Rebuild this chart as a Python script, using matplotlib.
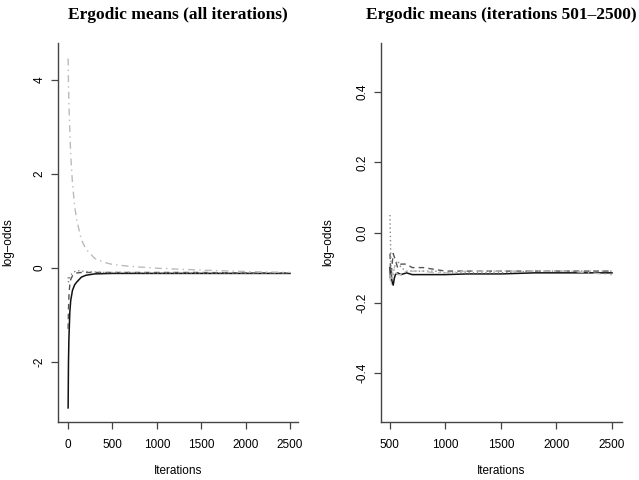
import matplotlib.pyplot as plt

plt.rcParams['font.family'] = ['Liberation Sans', 'DejaVu Sans']

# ergodic means, all iterations
iters_all = [1, 5, 10, 20, 30, 50, 75, 100, 150, 200, 300, 400, 500, 700, 1000, 1500, 2000, 2500]
all_chain1 = [-2.98, -2.0, -1.5, -0.95, -0.7, -0.48, -0.36, -0.3, -0.2, -0.16, -0.13, -0.125, -0.12, -0.12, -0.12, -0.12, -0.12, -0.12]
all_chain2 = [-1.3, -0.9, -0.6, -0.35, -0.25, -0.17, -0.13, -0.11, -0.1, -0.1, -0.1, -0.1, -0.1, -0.1, -0.1, -0.1, -0.11, -0.11]
all_chain3 = [-0.2, -0.3, -0.25, -0.2, -0.15, -0.12, -0.08, -0.06, -0.07, -0.08, -0.09, -0.1, -0.1, -0.1, -0.11, -0.11, -0.11, -0.11]
all_chain4 = [4.45, 3.9, 3.5, 2.9, 2.4, 1.8, 1.3, 1.0, 0.6, 0.4, 0.2, 0.12, 0.07, 0.03, -0.01, -0.05, -0.08, -0.1]

# ergodic means, iterations 501-2500
iters_post = [501, 505, 510, 520, 530, 540, 550, 570, 600, 650, 700, 800, 900, 1000, 1200, 1500, 1800, 2100, 2500]
post_chain1 = [-0.10, -0.13, -0.12, -0.14, -0.15, -0.13, -0.12, -0.115, -0.12, -0.115, -0.12, -0.12, -0.12, -0.12, -0.118, -0.118, -0.115, -0.115, -0.115]
post_chain2 = [-0.06, -0.1, -0.13, -0.09, -0.06, -0.07, -0.08, -0.1, -0.09, -0.09, -0.1, -0.1, -0.105, -0.11, -0.11, -0.11, -0.11, -0.11, -0.11]
post_chain3 = [0.05, -0.02, -0.1, -0.13, -0.12, -0.1, -0.09, -0.08, -0.1, -0.11, -0.11, -0.11, -0.11, -0.115, -0.115, -0.115, -0.11, -0.11, -0.11]
post_chain4 = [-0.12, -0.14, -0.15, -0.13, -0.11, -0.1, -0.11, -0.12, -0.12, -0.11, -0.11, -0.11, -0.115, -0.115, -0.11, -0.11, -0.11, -0.11, -0.12]

styles = [
    dict(color='#111111', linestyle='-', linewidth=1.1),
    dict(color='#555555', linestyle=(0, (4, 3)), linewidth=1.0),
    dict(color='#888888', linestyle=(0, (1, 2)), linewidth=1.0),
    dict(color='#bbbbbb', linestyle=(0, (5, 3, 1, 3)), linewidth=1.0),
]

fig = plt.figure(figsize=(6.39, 4.8), dpi=100)
ax1 = fig.add_axes([58 / 639, 58 / 480, 240 / 639, 379 / 480])
ax2 = fig.add_axes([381 / 639, 58 / 480, 241 / 639, 379 / 480])

for s, ys in zip(styles, [all_chain1, all_chain2, all_chain3, all_chain4]):
    ax1.plot(iters_all, ys, **s)
for s, ys in zip(styles, [post_chain1, post_chain2, post_chain3, post_chain4]):
    ax2.plot(iters_post, ys, **s)

ax1.set_xlim(-113, 2590)
ax1.set_ylim(-3.28, 4.78)
ax1.set_xticks([0, 500, 1000, 1500, 2000, 2500])
ax1.set_yticks([-2, 0, 2, 4])
ax1.set_yticklabels(['-2', '0', '2', '4'])

ax2.set_xlim(420, 2590)
ax2.set_ylim(-0.54, 0.54)
ax2.set_xticks([500, 1000, 1500, 2000, 2500])
ax2.set_yticks([-0.4, -0.2, 0.0, 0.2, 0.4])
ax2.set_yticklabels(['-0.4', '-0.2', '0.0', '0.2', '0.4'])

titles = ['Ergodic means (all iterations)', 'Ergodic means (iterations 501\u20132500)']
for ax, t in zip([ax1, ax2], titles):
    for sp in ['top', 'right']:
        ax.spines[sp].set_visible(False)
    for sp in ['left', 'bottom']:
        ax.spines[sp].set_color('#444444')
        ax.spines[sp].set_linewidth(1.0)
    ax.tick_params(direction='out', length=5, width=0.9, color='#444444',
                   labelsize=8.5)
    ax.tick_params(axis='x', pad=7)
    ax.tick_params(axis='y', pad=4)
    for lab in ax.get_yticklabels():
        lab.set_rotation(90)
        lab.set_va('center')
    ax.set_title(t, family='Liberation Serif', fontweight='bold', fontsize=12.5, pad=0,
                 y=(422 - 15) / 379, va='center')
    ax.set_xlabel('Iterations', fontsize=8.5)
    ax.set_ylabel('log\u2013odds', fontsize=8.5)
    ax.xaxis.set_label_coords(0.5, -(465 - 422) / 379)

ax1.yaxis.set_label_coords(-(58 - 14) / 240, (422 - 242) / 379)
ax2.yaxis.set_label_coords(-(381 - 334) / 241, (422 - 242) / 379)

fig.savefig('out.png', dpi=100)
